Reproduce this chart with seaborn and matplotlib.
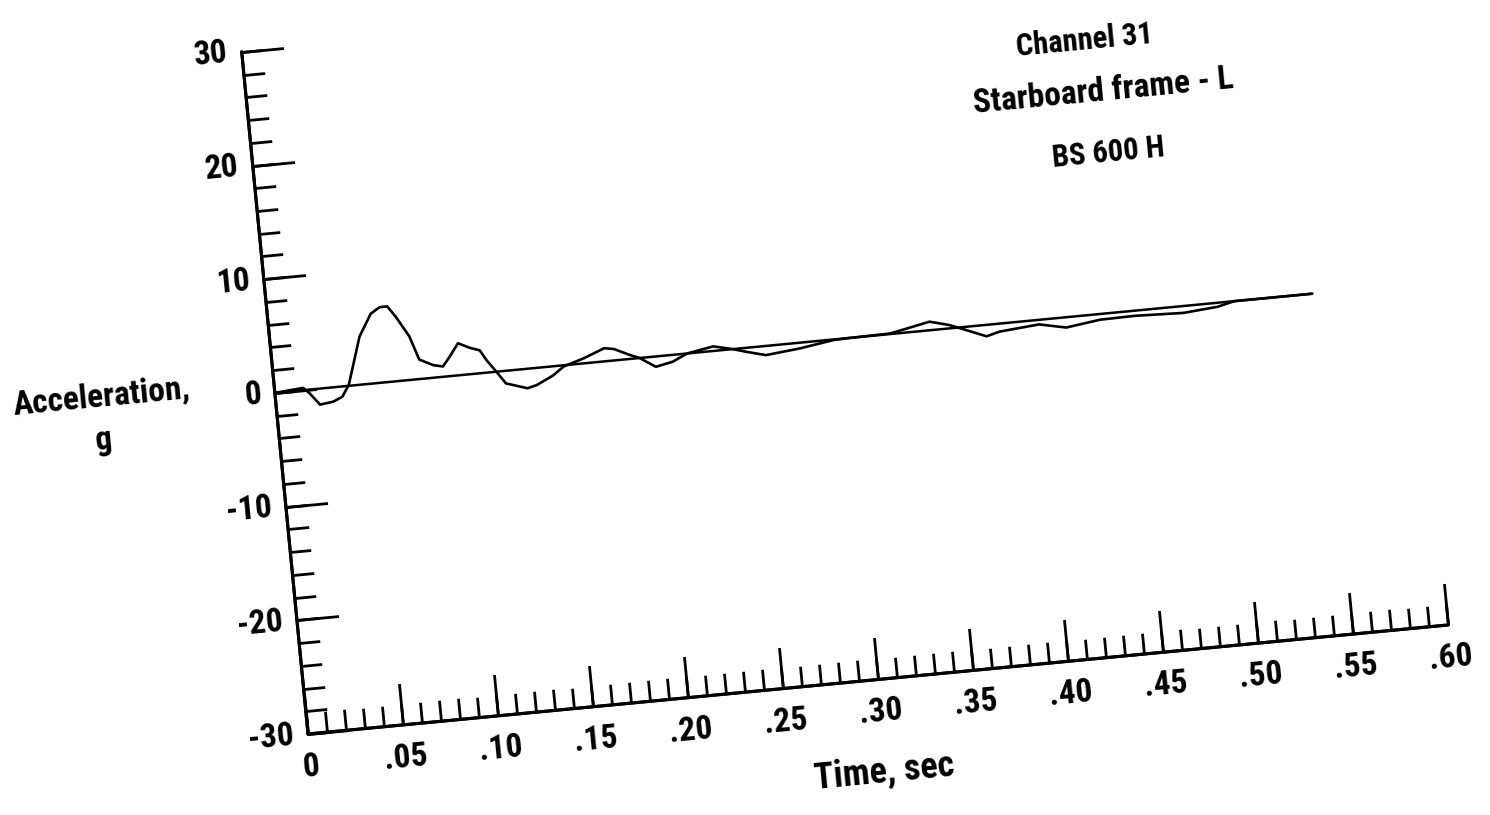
import numpy as np
import matplotlib
matplotlib.use("Agg")
import matplotlib.pyplot as plt
import seaborn as sns
from matplotlib import font_manager
from matplotlib.transforms import Affine2D
import mpl_toolkits.axisartist.floating_axes as floating_axes
from mpl_toolkits.axisartist.grid_finder import FixedLocator, DictFormatter

# ---------------- data ----------------
trace_t = [0.000, 0.015, 0.018, 0.023, 0.030, 0.035, 0.039, 0.047, 0.054, 0.059,
           0.063, 0.067, 0.073, 0.077, 0.084, 0.089, 0.093, 0.098, 0.104, 0.109,
           0.112, 0.117, 0.121, 0.132, 0.137, 0.146, 0.152, 0.163, 0.174, 0.179,
           0.187, 0.192, 0.200, 0.209, 0.217, 0.231, 0.241, 0.248, 0.258, 0.276,
           0.294, 0.303, 0.324, 0.333, 0.345, 0.355, 0.361, 0.374, 0.381, 0.402,
           0.416, 0.434, 0.452, 0.478, 0.496, 0.505, 0.546]
trace_g = [0.0, 0.2, -0.3, -1.4, -1.25, -0.9, 0.1, 4.2, 6.1, 6.6,
           6.6, 5.6, 3.8, 1.7, 1.1, 0.9, 1.7, 2.8, 2.3, 2.0,
           1.1, -0.1, -1.1, -1.7, -1.5, -0.8, -0.1, 0.45, 1.15, 1.0,
           0.35, 0.0, -0.9, -0.6, 0.0, 0.4, 0.0, -0.35, -0.8, -0.5,
           -0.05, 0.0, 0.05, 0.35, 0.75, 0.3, -0.1, -1.0, -0.7, -0.4,
           -0.9, -0.5, -0.45, -0.6, -0.35, 0.0, 0.0]
base_t = [0.0, 0.546]
base_g = [0.0, 0.0]

x_major = [0.0, 0.05, 0.10, 0.15, 0.20, 0.25, 0.30, 0.35, 0.40, 0.45, 0.50, 0.55, 0.60]
x_labels = ["0", ".05", ".10", ".15", ".20", ".25", ".30", ".35", ".40", ".45", ".50", ".55", ".60"]
y_major = [-30, -20, -10, 0, 10, 20, 30]
y_labels = ["-30", "-20", "-10", "0", "10", "20", "30"]
x_minor = [round(i * 0.01, 2) for i in range(61)]
y_minor = list(range(-30, 31, 2))

title_lines = ["Channel 31", "Starboard frame - L", "BS 600 H"]

# ---------------- style ----------------
sns.set_theme(style="white")
ttf = font_manager.fontManager.ttflist
names = {f.name for f in ttf}
font_kw = dict(fontweight="bold")
chosen = None
for cand in ["Liberation Sans Narrow", "Roboto Condensed", "Open Sans Condensed",
             "Noto Sans Condensed", "DejaVu Sans Condensed", "Arial Narrow"]:
    if cand in names:
        chosen = cand
        break
scale = 1.0
if chosen is None:
    cond = [f.name for f in ttf if f.stretch in ("condensed", "semi-condensed")]
    if cond:
        chosen = cond[0]
        font_kw["fontstretch"] = "condensed"
if chosen is None:
    chosen = "Liberation Sans" if "Liberation Sans" in names else "DejaVu Sans"
    scale = 0.9
font_kw["family"] = chosen
plt.rcParams["font.family"] = [chosen, "DejaVu Sans"]

W, H = 1490, 815
fig = plt.figure(figsize=(W / 100, H / 100), dpi=100)
fig.patch.set_facecolor("white")

# affine map from (time, g) to figure pixels (scanned page is slightly rotated)
tr = Affine2D(np.array([[1900.0, -1.105, 274.85],
                        [181.7, 11.37, 422.1],
                        [0.0, 0.0, 1.0]]))
extremes = (0.0, 0.6, -30.0, 30.0)

TICK_FS = 24 * scale


def make_axes(xlocs, ylocs, xfmt, yfmt, ticksize):
    gh = floating_axes.GridHelperCurveLinear(
        tr, extremes=extremes,
        grid_locator1=FixedLocator(xlocs), grid_locator2=FixedLocator(ylocs),
        tick_formatter1=DictFormatter(xfmt), tick_formatter2=DictFormatter(yfmt))
    a = fig.add_axes([0, 0, 1, 1], axes_class=floating_axes.FloatingAxes, grid_helper=gh)
    a.set_xlim(0, W)
    a.set_ylim(0, H)
    a.set_facecolor("none")
    a.grid(False)
    for side in ["top", "right"]:
        a.axis[side].set_visible(False)
    for side in ["bottom", "left"]:
        art = a.axis[side]
        art.line.set_linewidth(2.2)
        art.line.set_color("black")
        art.major_ticks.set_ticksize(ticksize)
        art.major_ticks.set_tick_out(False)
        art.major_ticks.set_markeredgewidth(2.0)
        art.major_ticks.set_color("black")
        art.major_ticklabels.set_color("black")
        art.major_ticklabels.set_fontsize(TICK_FS)
        art.major_ticklabels.set_fontweight("bold")
        art.major_ticklabels.set_fontfamily(font_kw["family"])
        if "fontstretch" in font_kw:
            art.major_ticklabels.set_fontstretch("condensed")
        art.label.set_visible(False)
    a.axis["bottom"].major_ticklabels.set_pad(13)
    a.axis["left"].major_ticklabels.set_pad(10)
    return a


ax_minor = make_axes(x_minor, y_minor, {}, {}, 15)
ax = make_axes(x_major, y_major, dict(zip(x_major, x_labels)),
               dict(zip(y_major, y_labels)), 30)

aux = ax.get_aux_axes(tr)
sns.lineplot(x=base_t, y=base_g, ax=aux, color="black", linewidth=1.8,
             sort=False, estimator=None)
sns.lineplot(x=trace_t, y=trace_g, ax=aux, color="black", linewidth=1.9,
             sort=False, estimator=None)

ROT = 5.5


def ftext(px, py, s, size):
    kw = dict(fontsize=size * scale, fontweight="bold", family=font_kw["family"],
              rotation=ROT, rotation_mode="anchor", ha="center", va="center",
              color="black")
    if "fontstretch" in font_kw:
        kw["fontstretch"] = "condensed"
    fig.text(px / W, 1 - py / H, s, **kw)


ftext(1085, 40, title_lines[0], 22)
ftext(1103, 92, title_lines[1], 24)
ftext(1108, 153, title_lines[2], 22)
ftext(102, 398, "Acceleration,", 24)
ftext(104, 440, "g", 24)
ftext(884, 772, "Time, sec", 26)

fig.savefig("out.png", dpi=100, facecolor="white")
